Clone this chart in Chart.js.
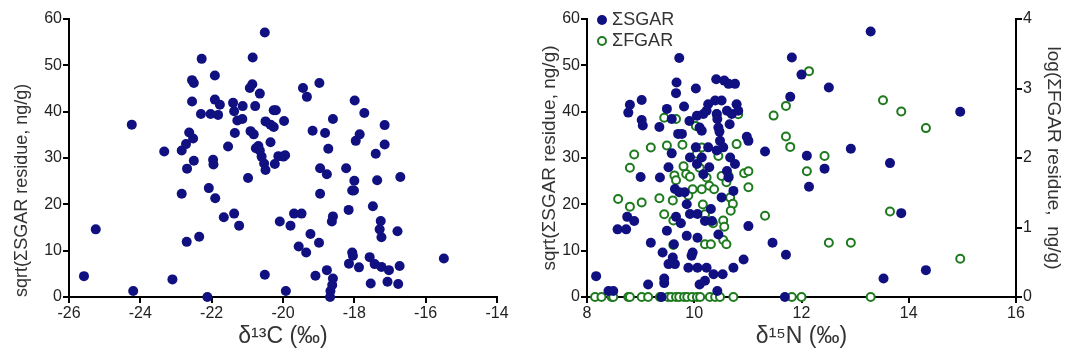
<!DOCTYPE html>
<html>
<head>
<meta charset="utf-8">
<script src="https://cdn.jsdelivr.net/npm/chart.js@4"></script>
<style>
  body { margin: 0; background: #fff; }
  #left { position: absolute; left: 0; top: 0; }
  #right { position: absolute; left: 530px; top: 0; }
</style>
</head>
<body>
<canvas id="left" width="530" height="358"></canvas>
<canvas id="right" width="535" height="358"></canvas>
<script>
// Left panel: d13C vs sqrt(sum SGAR)
const c13 = [-25.58, -25.25, -24.24, -24.2, -23.33, -23.1, -22.84, -22.84, -22.72, -22.69, -22.7, -22.63, -22.52, -22.5,
  -22.55, -22.55, -22.5, -22.35, -22.28, -22.3, -22.08, -22.12, -22.03, -21.96, -21.95, -21.9, -21.91, -21.91, -21.82,
  -21.77, -21.54, -21.66, -21.4, -21.37, -21.35, -21.37, -21.23, -21.28, -21.14, -21.13, -20.98, -20.93, -20.86, -20.85,
  -20.91, -20.82, -20.78, -20.76, -20.65, -20.69, -20.65, -20.51, -20.51, -20.49, -20.6, -20.53, -20.49,
  -19.44, -19.33, -18.98, -20.26, -20.2, -17.99, -17.72, -18.6, -20.35, -20.26, -19.97, -19.17, -18.82, -17.15, -17.85,
  -17.96, -17.15, -18.73, -20.35, -20.13, -19.99, -19.94, -20.23, -17.4, -18.96, -18.77, -18.23, -18.0, -17.36, -16.71,
  -18.06, -18.01, -18.96, -17.48, -18.16, -19.69, -19.48, -18.6, -18.63, -20.09, -19.79, -17.26, -17.29, -17.24, -16.79,
  -19.23, -18.99, -19.56, -19.35, -18.06, -18.04, -18.15, -17.87, -17.57, -17.43, -17.24, -17.03, -16.73, -15.49,
  -18.77, -19.09, -18.6, -18.62, -18.67, -18.68, -19.92, -17.54, -17.07, -16.77];
const sgarC = [4.5, 14.6, 37.2, 1.3, 31.4, 3.8, 22.3, 31.6, 33.0, 27.7, 11.9, 35.5, 34.2, 29.4,
  42.2, 46.8, 46.2, 13.0, 51.4, 39.5, 23.5, 0, 39.5, 29.6, 28.6, 21.3, 47.8, 42.6, 39.3,
  41.5, 32.5, 17.2, 41.9, 18.0, 35.4, 40.1, 15.4, 38.1, 38.4, 41.2, 25.7, 45.1, 45.9, 51.7,
  35.8, 35.1, 41.2, 32.1, 43.9, 32.6, 31.6, 57.1, 4.8, 37.9, 30.3, 28.8, 27.4,
  45.1, 43.2, 46.2, 40.3, 40.3, 42.4, 39.7, 38.4, 37.2, 36.7, 38.0, 35.9, 35.4, 37.1, 35.1,
  33.7, 32.9, 32.0, 33.4, 30.4, 30.3, 30.6, 28.7, 30.9, 27.8, 26.5, 27.8, 25.1, 25.2, 25.9,
  23.0, 23.0, 22.3, 19.6, 18.8, 18.0, 18.0, 17.4, 16.3, 16.3, 15.4, 16.4, 14.6, 12.9, 14.2,
  13.6, 11.7, 10.9, 9.6, 9.6, 8.9, 7.2, 6.4, 8.6, 7.1, 6.5, 5.8, 6.7, 8.3,
  5.8, 4.6, 4.0, 2.6, 1.3, 0, 1.3, 2.9, 3.3, 2.8];

// Right panel: d15N vs sqrt(sum SGAR)
const n15Sgar = [8.17, 8.4, 8.49, 8.57, 8.73, 8.75, 8.88, 8.77, 8.8, 9.02, 9.02, 9.04, 9.0, 9.14, 9.19, 9.35, 9.36,
  9.41, 9.39, 9.44, 9.44, 9.49, 9.49, 9.52, 9.52, 9.58, 9.58, 9.62, 9.6, 9.64, 9.64, 9.66, 9.66, 9.67, 9.72, 9.7, 9.72,
  9.75, 9.77, 9.81, 9.82, 9.86, 9.86, 9.89, 9.91, 9.92, 9.92, 9.95, 9.97, 10.03, 10.05, 10.03, 10.05, 10.06, 10.06,
  10.06, 10.1, 10.14, 10.1, 10.17, 10.14, 10.17, 10.2, 10.2, 10.23, 10.26, 10.23, 10.26, 10.28, 10.31, 10.33, 10.36,
  10.39, 10.41, 10.42, 10.43, 10.45, 10.47, 10.42, 10.43, 10.45, 10.48, 10.51, 10.53, 10.51, 10.54, 10.56, 10.64,
  10.61, 10.61, 10.64, 10.67, 10.66, 10.7, 10.73, 10.73, 10.76, 10.79, 10.82, 10.76, 10.92, 10.98, 11.01, 11.01,
  11.32, 11.46, 11.71, 11.69, 11.82, 11.79, 12.0, 12.51, 13.29, 14.96, 12.92, 12.1, 13.65, 12.43, 12.14, 13.86,
  13.53, 14.32];
const sgarN = [4.5, 1.3, 1.3, 14.6, 14.6, 17.3, 16.4, 39.8, 41.5, 42.5, 38.2, 37.0, 25.9, 2.7, 11.7, 36.7, 25.8,
  9.6, 0, 3.0, 4.0, 40.6, 14.3, 7.1, 28.0, 38.4, 31.0, 11.4, 8.5, 7.1, 23.3, 17.3, 44.0, 46.3, 51.6, 35.2, 22.6,
  15.9, 35.2, 41.1, 22.6, 20.0, 13.2, 6.3, 38.0, 17.9, 30.1, 8.9, 9.6, 45.0, 39.1, 32.3, 28.7, 17.9, 12.8,
  6.3, 36.6, 35.9, 2.7, 39.5, 30.1, 26.5, 16.4, 3.5, 40.2, 41.6, 6.3, 32.3, 28.0, 19.0, 16.4, 4.9,
  42.4, 47.0, 39.5, 38.4, 36.6, 35.7, 31.6, 1.3, 13.5, 33.7, 42.4, 4.9, 21.5, 32.3, 46.7, 46.0,
  40.2, 27.2, 25.8, 30.1, 37.3, 39.5, 6.3, 22.9, 28.7, 41.6, 40.2, 46.0, 8.1, 34.6, 33.7, 15.3,
  31.4, 11.7, 9.1, 0, 51.7, 43.2, 48.0, 45.2, 57.3, 40.0, 32.0, 30.5, 28.9, 27.7, 23.8, 18.1,
  4.0, 5.8];

// Right panel: d15N vs log(sum FGAR), right axis
const n15Fgar = [8.15, 8.27, 8.46, 8.49, 8.77, 8.8, 9.02, 9.14, 9.36, 9.51, 9.57, 9.66, 9.72, 9.81, 9.87, 9.96, 10.05,
  10.11, 10.29, 10.39, 10.48, 10.73, 11.82, 12.0, 13.29,
  8.58, 8.8, 8.8, 8.88, 9.02, 9.19, 9.35, 9.44, 9.44, 9.49, 9.6, 9.61, 9.61, 9.63, 9.66, 9.66, 9.78, 9.8, 9.85, 9.89,
  9.92, 9.97, 10.03, 10.05, 10.1, 10.14, 10.14, 10.16, 10.2, 10.2, 10.23, 10.28, 10.31, 10.35, 10.37, 10.42, 10.45,
  10.51, 10.54, 10.56, 10.54, 10.6, 10.6, 10.64, 10.67, 10.72, 10.68, 10.79, 10.82, 10.93, 11.01, 11.01, 11.32,
  11.48, 11.71, 11.71, 11.79, 12.14, 13.52, 13.86, 14.32, 12.43, 12.1, 13.65, 12.51, 12.92, 14.96];
const fgarLog = [0, 0, 0, 0, 0, 0, 0, 0, 0, 0, 0, 0, 0, 0, 0, 0, 0,
  0, 0, 0, 0, 0, 0, 0, 0,
  1.41, 1.30, 1.86, 2.05, 1.36, 2.15, 1.42, 2.58, 1.19, 2.18, 1.39, 0.75, 1.10, 1.75, 1.68, 2.56, 2.19, 1.88, 1.77, 1.46,
  1.73, 1.55, 2.46, 2.06, 1.86, 2.15, 1.55, 1.33, 1.19, 0.76, 1.72, 1.60, 0.76, 1.06, 1.55, 2.63, 2.03,
  1.74, 1.10, 1.01, 0.82, 0.76, 1.65, 1.74, 1.43, 1.34, 1.24, 2.20, 2.63, 1.78, 1.81, 1.58, 1.17,
  2.61, 2.75, 2.31, 2.16, 3.25, 2.83, 2.67, 2.43, 2.03, 1.81, 1.23, 0.78, 0.78, 0.55];

const FONT = '"Liberation Sans", Arial, sans-serif';
const BLUE = 'rgb(16, 16, 128)';
const GREEN = 'rgb(30, 122, 30)';

function pairs(xs, ys) {
  return xs.map((x, i) => ({ x: x, y: ys[i] }));
}

// axis look shared by all scales: black line, outward ticks, no grid
function axis(min, max, step, title, titlePad, size, extra) {
  return Object.assign({
    type: 'linear',
    min: min,
    max: max,
    border: { display: true, color: '#000', width: 2 },
    grid: { display: true, drawOnChartArea: false, color: '#000', lineWidth: 2, tickLength: 6 },
    ticks: { stepSize: step, color: '#222', padding: 1, font: { family: FONT, size: 16 } },
    title: { display: true, text: title, color: '#333', padding: titlePad, font: { family: FONT, size: size } }
  }, extra);
}

// draws the legend inside the plot, top left
const insideLegend = {
  id: 'insideLegend',
  afterDraw(chart) {
    const { ctx, chartArea } = chart;
    ctx.save();
    ctx.font = '18px ' + FONT;
    ctx.textBaseline = 'middle';
    chart.data.datasets.forEach((ds, i) => {
      const x = chartArea.left + 15;
      const y = chartArea.top + 1 + i * 21;
      ctx.beginPath();
      ctx.arc(x, y, ds.pointRadius, 0, Math.PI * 2);
      ctx.fillStyle = ds.backgroundColor;
      ctx.fill();
      if (ds.borderWidth) {
        ctx.lineWidth = ds.borderWidth;
        ctx.strokeStyle = ds.borderColor;
        ctx.stroke();
      }
      ctx.fillStyle = '#333';
      ctx.fillText(ds.label, chartArea.left + 25, y);
    });
    ctx.restore();
  }
};

// left chart
new Chart(document.getElementById('left'), {
  type: 'scatter',
  data: {
    datasets: [{
      label: 'ΣSGAR',
      data: pairs(c13, sgarC),
      backgroundColor: BLUE,
      borderWidth: 0,
      pointRadius: 5,
      clip: false
    }]
  },
  options: {
    responsive: false,
    animation: false,
    layout: { padding: { left: 0, right: 33, top: 19, bottom: 0 } },
    plugins: { legend: { display: false }, tooltip: { enabled: false } },
    scales: {
      x: axis(-26, -14, 2, 'δ¹³C (‰)', { top: 0, bottom: 8 }, 23, {
        afterFit: s => { s.height = 61; }
      }),
      y: axis(0, 60, 10, 'sqrt(ΣSGAR residue, ng/g)', { top: 11, bottom: 0 }, 18, {
        afterFit: s => { s.width = 69; }
      })
    }
  }
});
// the reference title sits low on the axis
Chart.getChart('left').options.scales.y.title.align = 'start';
Chart.getChart('left').update();

// right chart
new Chart(document.getElementById('right'), {
  type: 'scatter',
  data: {
    datasets: [{
      label: 'ΣSGAR',
      data: pairs(n15Sgar, sgarN),
      backgroundColor: BLUE,
      borderWidth: 0,
      pointRadius: 5,
      yAxisID: 'y',
      clip: false
    }, {
      label: 'ΣFGAR',
      data: pairs(n15Fgar, fgarLog),
      backgroundColor: '#fff',
      borderColor: GREEN,
      borderWidth: 2,
      pointRadius: 4,
      yAxisID: 'y2',
      clip: false
    }]
  },
  options: {
    responsive: false,
    animation: false,
    layout: { padding: { left: 0, right: 0, top: 19, bottom: 0 } },
    plugins: { legend: { display: false }, tooltip: { enabled: false } },
    scales: {
      x: axis(8, 16, 2, 'δ¹⁵N (‰)', { top: 0, bottom: 8 }, 23, {
        afterFit: s => { s.height = 61; }
      }),
      y: axis(0, 60, 10, 'sqrt(ΣSGAR residue, ng/g)', { top: 8, bottom: 0 }, 19, {
        position: 'left',
        afterFit: s => { s.width = 57; }
      }),
      y2: axis(0, 4, 1, 'log(ΣFGAR residue,  ng/g)', { top: 0, bottom: 0 }, 19, {
        position: 'right',
        afterFit: s => { s.width = 49; }
      })
    }
  },
  plugins: [insideLegend]
});
</script>
</body>
</html>
